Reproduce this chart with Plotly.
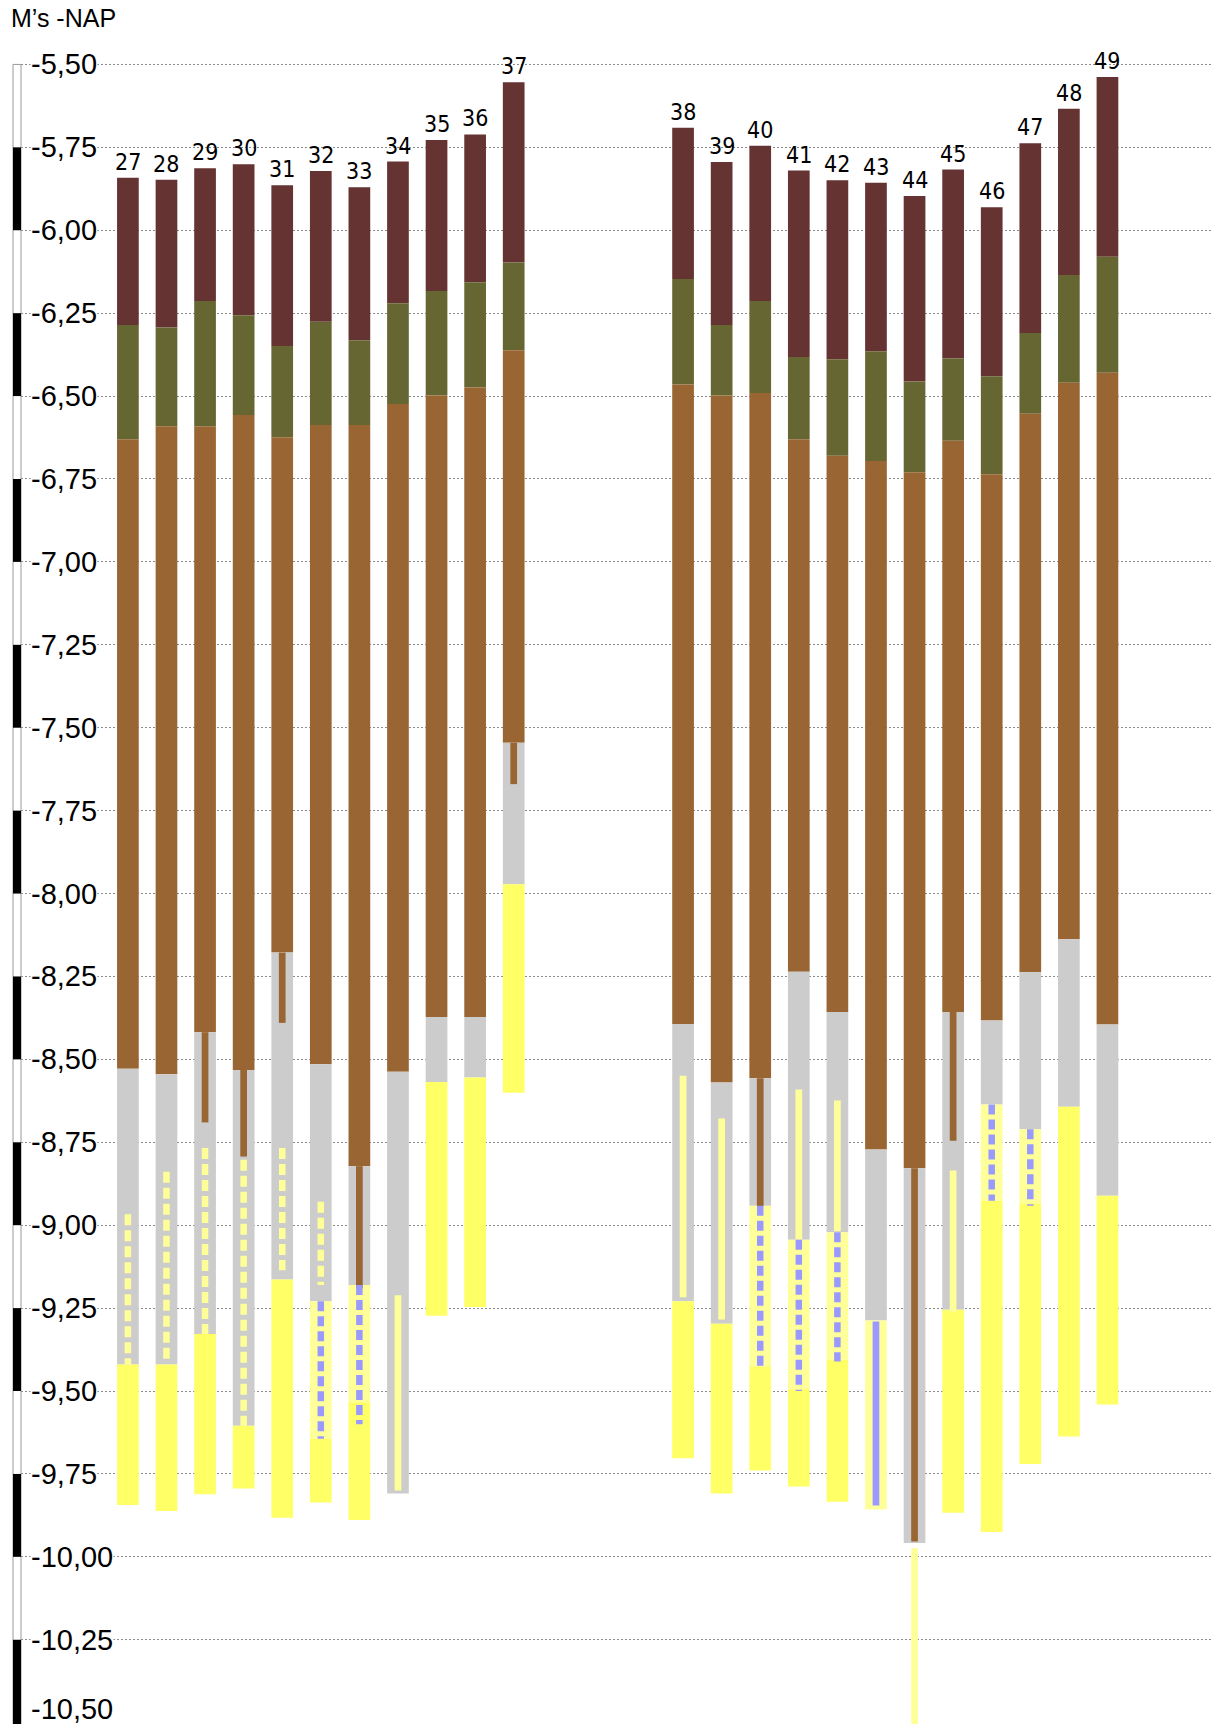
import plotly.graph_objects as go

# ---------------- data (values in m -NAP) ----------------
labels = [27, 28, 29, 30, 31, 32, 33, 34, 35, 36, 37,
          38, 39, 40, 41, 42, 43, 44, 45, 46, 47, 48, 49]
group_sizes = [11, 12]

top = [-5.842, -5.848, -5.813, -5.801, -5.864, -5.821, -5.870, -5.793, -5.728, -5.711, -5.554,
       -5.691, -5.794, -5.745, -5.820, -5.849, -5.857, -5.897, -5.817, -5.931, -5.738, -5.634, -5.538]
red_bottom = [-6.286, -6.293, -6.213, -6.256, -6.349, -6.276, -6.332, -6.220, -6.183, -6.157, -6.097,
              -6.147, -6.286, -6.213, -6.382, -6.389, -6.365, -6.456, -6.387, -6.440, -6.310, -6.135, -6.080]
olive_bottom = [-6.630, -6.591, -6.591, -6.557, -6.624, -6.587, -6.587, -6.524, -6.498, -6.474, -6.362,
                -6.465, -6.498, -6.491, -6.630, -6.680, -6.696, -6.730, -6.635, -6.736, -6.553, -6.460, -6.430]
brown_bottom = [-8.528, -8.545, -8.418, -8.532, -8.178, -8.515, -8.822, -8.537, -8.372, -8.372, -7.545,
                -8.393, -8.570, -8.557, -8.236, -8.357, -8.772, -8.828, -8.357, -8.383, -8.237, -8.138, -8.395]
grey_bottom = [-9.420, -9.420, -9.328, -9.605, -9.164, -9.229, -9.180, -9.809, -8.568, -8.555, -7.972,
               -9.229, -9.297, -8.941, -9.044, -9.021, -9.287, -9.958, -9.255, -8.636, -8.711, -8.643, -8.911]
pale_bottom = [None, None, None, None, None, -9.644, -9.534, None, None, None, None,
               None, None, -9.425, -9.495, -9.406, -9.857, None, None, -8.926, -8.934, None, None]
yellow_bottom = [-9.844, -9.862, -9.811, -9.794, -9.882, -9.836, -9.889, None, -9.273, -9.247, -8.601,
                 -9.703, -9.809, -9.740, -9.788, -9.834, None, None, -9.867, -9.925, -9.720, -9.637, -9.541]

# narrow inner strips
thin_brown_bottom = [None, None, -8.690, -8.793, -8.390, None, -9.190, None, None, None, -7.670,
                     None, None, -8.943, None, None, None, -9.954, -8.745, None, None, None, None]
yellow_dash_top = [-8.967, -8.839, -8.767, -8.803, -8.767, -8.929, None, None, None, None, None,
                   None, None, None, None, None, None, None, None, None, None, None, None]
yellow_dash_bottom = [-9.420, -9.405, -9.328, -9.605, -9.136, -9.180, None, None, None, None, None,
                      None, None, None, None, None, None, None, None, None, None, None, None]
pale_strip_top = [None, None, None, None, None, None, None, -9.211, None, None, None,
                  -8.549, -8.678, None, -8.591, -8.624, None, -9.974, -8.835, None, None, None, None]
pale_strip_bottom = [None, None, None, None, None, None, None, -9.800, None, None, None,
                     -9.217, -9.284, None, -9.043, -9.018, None, -10.600, -9.262, None, None, None, None]
blue_dash_top = [None, None, None, None, None, -9.229, -9.180, None, None, None, None,
                 None, None, -8.941, -9.044, -9.021, None, None, None, -8.636, -8.711, None, None]
blue_dash_bottom = [None, None, None, None, None, -9.644, -9.600, None, None, None, None,
                    None, None, -9.432, -9.500, -9.411, None, None, None, -8.926, -8.941, None, None]
blue_line_top = [None] * 16 + [-9.290] + [None] * 6
blue_line_bottom = [None] * 16 + [-9.845] + [None] * 6

tick_values = [-5.50, -5.75, -6.00, -6.25, -6.50, -6.75, -7.00, -7.25, -7.50, -7.75, -8.00,
               -8.25, -8.50, -8.75, -9.00, -9.25, -9.50, -9.75, -10.00, -10.25, -10.50]

# ---------------- styling ----------------
RED, OLIVE, BROWN = "#663333", "#666633", "#996633"
GREY, YELLOW, PALE, BLUE = "#CCCCCC", "#FFFF66", "#FFFF99", "#9999FF"
GROUP_GAP = 3.39
BAR_W = 0.5625
STRIP_W = 0.174
LINE_W = 6.5
W, H = 1211, 1724
ML = 21

xpos = []
offset = 0.0
idx = 0
for g, n in enumerate(group_sizes):
    for k in range(n):
        xpos.append(idx + offset)
        idx += 1
    offset += GROUP_GAP

fig = go.Figure()


def add_layer(upper, lower, color, width):
    xs, bases, hs = [], [], []
    for x, u, l in zip(xpos, upper, lower):
        if u is None or l is None:
            continue
        xs.append(x)
        bases.append(u)
        hs.append(l - u)
    fig.add_trace(go.Bar(x=xs, y=hs, base=bases, width=width,
                         marker=dict(color=color, line=dict(width=0)),
                         hoverinfo="skip", showlegend=False))


def add_dashed(tops, bottoms, color, dash):
    xs, ys = [], []
    for x, t, b in zip(xpos, tops, bottoms):
        if t is None or b is None:
            continue
        xs += [x, x, None]
        ys += [t, b, None]
    fig.add_trace(go.Scatter(x=xs, y=ys, mode="lines", connectgaps=False,
                             line=dict(color=color, width=LINE_W, dash=dash),
                             hoverinfo="skip", showlegend=False))


yellow_top = [p if p is not None else g for p, g in zip(pale_bottom, grey_bottom)]

add_layer(top, red_bottom, RED, BAR_W)
add_layer(red_bottom, olive_bottom, OLIVE, BAR_W)
add_layer(olive_bottom, brown_bottom, BROWN, BAR_W)
add_layer(brown_bottom, grey_bottom, GREY, BAR_W)
add_layer(grey_bottom, pale_bottom, PALE, BAR_W)
add_layer(yellow_top, yellow_bottom, YELLOW, BAR_W)
add_layer(pale_strip_top, pale_strip_bottom, PALE, STRIP_W)
add_layer(blue_line_top, blue_line_bottom, BLUE, STRIP_W)
add_layer(brown_bottom, thin_brown_bottom, BROWN, STRIP_W)
add_dashed(yellow_dash_top, yellow_dash_bottom, PALE, "11px,5px")
add_dashed(blue_dash_top, blue_dash_bottom, BLUE, "10px,5px")

annotations = []
# column numbers above each column
for x, t, lab in zip(xpos, top, labels):
    annotations.append(dict(x=x, y=t, xref="x", yref="y", text=str(lab), showarrow=False,
                            xanchor="center", yanchor="bottom", yshift=1,
                            font=dict(family="Liberation Sans Narrow, Arial Narrow, DejaVu Sans Condensed, Liberation Sans, sans-serif",
                                      size=23, color="black")))

# depth labels
for i, v in enumerate(tick_values):
    last = i == len(tick_values) - 1
    annotations.append(dict(x=(30 - ML) / (W - ML), y=v, xref="paper", yref="y",
                            text=f"{v:.2f}".replace(".", ","), showarrow=False,
                            xanchor="left", yanchor="bottom" if last else "middle",
                            yshift=-3 if last else 0,
                            bgcolor="white", borderpad=0,
                            font=dict(family="Liberation Sans, Arial, sans-serif", size=29, color="black")))

annotations.append(dict(x=(9 - ML) / (W - ML), y=1, xref="paper", yref="paper",
                        text="M’s -NAP", showarrow=False, xanchor="left", yanchor="top", yshift=-2,
                        font=dict(family="Liberation Sans, Arial, sans-serif", size=25, color="black")))

# black / white depth scale bar
shapes = [dict(type="rect", xref="paper", yref="y",
               x0=(13 - ML) / (W - ML), x1=0, y0=tick_values[0], y1=tick_values[-1] - 0.1,
               fillcolor="white", line=dict(color="#9a9a9a", width=1), layer="above")]
for i in range(1, len(tick_values) - 1, 2):
    shapes.append(dict(type="rect", xref="paper", yref="y",
                       x0=(13 - ML) / (W - ML), x1=0, y0=tick_values[i], y1=tick_values[i + 1] - (0.1 if i + 1 == len(tick_values) - 1 else 0),
                       fillcolor="black", line=dict(width=0), layer="above"))

px_per_unit = 332.0
y_top = tick_values[0] + 64.5 / px_per_unit
y_bot = min(y_top - H / px_per_unit, tick_values[-1] - 0.004)
x_spacing = 38.58
x_left = (ML - 127.9) / x_spacing
x_right = (W - 127.9) / x_spacing

fig.update_layout(
    width=W, height=H,
    margin=dict(l=ML, r=0, t=0, b=0, pad=0),
    paper_bgcolor="white", plot_bgcolor="white",
    barmode="overlay", showlegend=False,
    xaxis=dict(range=[x_left, x_right], showgrid=False, zeroline=False, showticklabels=False,
               showline=False, ticks=""),
    yaxis=dict(range=[y_bot, y_top], tickvals=tick_values[:-1], showticklabels=False, ticks="",
               showgrid=True, gridcolor="#8a8a8a", gridwidth=1, griddash="2px,2px",
               zeroline=False, showline=False),
    annotations=annotations,
    shapes=shapes,
)

fig.write_html("out.html", config={"displayModeBar": False},
               post_script="document.body.style.margin='0px';")
